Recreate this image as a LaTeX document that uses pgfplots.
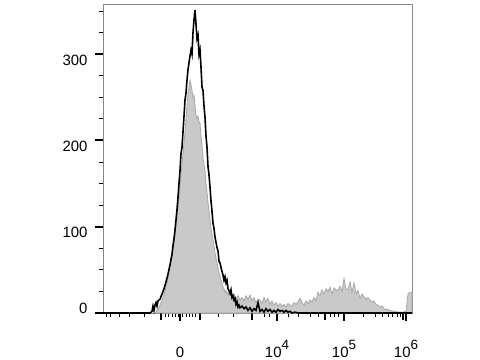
\documentclass[border=0pt]{standalone}
\usepackage{fontspec}
\setmainfont{Liberation Sans}
\usepackage{pgfplots}
\pgfplotsset{compat=1.18}
\definecolor{fillgray}{HTML}{C9C9C9}
\definecolor{edgegray}{HTML}{A8A8A8}
\definecolor{framegray}{HTML}{8A8A8A}
\newcommand{\expsup}[1]{\raisebox{8bp}{\fontsize{13.5}{13.5}\selectfont #1}}
\begin{document}
\begin{tikzpicture}
\path[use as bounding box] (0,0) rectangle (480bp,360bp);
\begin{axis}[
  at={(103bp,47bp)}, anchor=south west,
  scale only axis, width=309bp, height=308bp,
  xmin=103, xmax=412, ymin=0, ymax=357,
  axis line style={framegray, line width=1pt},
  tick align=outside, xtick pos=left, ytick pos=left,
  ytick={100,200,300},
  yticklabels={100,200,300},
  minor ytick={25,50,75,125,150,175,225,250,275,325,350},
  extra y ticks={0}, extra y tick labels={0},
  extra y tick style={yticklabel style={yshift=11bp}},
  major tick length=8bp, minor tick length=4bp,
  major y tick style={black, line width=2pt},
  minor tick style={black, line width=0.9pt},
  major x tick style={black, line width=2.8pt},
  xtick={180,277,344,406},
  xticklabels={0,10\expsup{4},10\expsup{5},10\expsup{6}},
  minor xtick={106,110,119,129,144,165,168,172,175,178,182,186,189,192,195,218,233,264,269,288,298,310,318,330,334,338,363,375,382,388,392,397,400},
  extra x ticks={161,200,252,325,403},
  extra x tick labels={},
  extra x tick style={major tick length=7bp, major x tick style={black, line width=1.4pt}},
  tick label style={font=\fontsize{15}{15}\selectfont},
  yticklabel style={xshift=-4bp, yshift=-6bp},
  xticklabel style={anchor=base, yshift=-36bp},
  clip=false,
]
\addplot[fill=fillgray, draw=edgegray, line width=0.8pt] table {
155 0
157 3
159 6
161 12
163 18
165 26
167 35
169 48
171 60
173 75
175 92
177 112
179 135
181 160
183 185
185 210
187 240
188 255
189 262
190 270
191 265
192 258
193 250
194 252
195 240
196 230
197 225
198 228
199 222
200 220
201 205
202 195
203 180
204 172
205 165
206 150
207 140
208 128
209 118
210 108
211 98
212 92
213 85
214 78
215 70
216 64
217 58
218 52
219 47
220 42
221 38
222 34
223 30
224 28
225 24
226 26
227 22
228 24
229 20
230 22
232 18
234 22
236 16
238 20
240 15
242 18
244 14
246 20
248 16
250 21
252 14
254 18
256 12
258 16
260 15
262 11
264 18
266 13
268 17
270 10
272 14
274 9
276 12
278 8
280 11
282 8
284 10
286 7
288 11
290 9
292 8
294 12
296 10
298 13
300 17
302 12
304 9
306 14
308 11
310 15
312 13
314 18
316 14
318 24
320 20
322 27
324 22
326 28
328 25
330 30
332 22
334 29
336 27
338 26
340 31
342 25
344 40
346 28
348 27
350 36
352 24
354 35
356 22
358 26
360 17
362 22
364 19
366 16
368 18
370 15
372 13
374 14
376 10
378 9
380 7
382 8
384 5
386 4
388 4
390 3
394 2
398 1
403 1
406 2
408 22
410 24
412 24
} \closedcycle;
\addplot[black, line width=1.6pt] table {
103 0
150 0
152 2
153 8
154 3
155 9
156 12
157 8
158 14
160 16
162 22
164 28
166 36
168 45
170 56
171 62
172 68
173 78
174 86
175 96
176 108
177 120
178 134
179 150
180 165
181 185
182 192
183 210
184 228
185 247
186 255
187 270
188 282
189 290
190 298
191 305
192 300
193 325
194 340
195 351
196 335
197 318
198 322
199 300
200 305
201 285
202 262
203 258
204 240
205 227
206 205
207 192
208 170
209 160
210 146
211 130
212 118
213 104
214 98
215 88
216 82
217 76
218 72
219 60
220 58
221 53
222 48
223 44
224 38
225 42
226 35
227 38
228 28
229 26
230 23
231 27
232 18
233 20
234 15
235 17
236 10
237 13
238 7
239 9
240 6
242 8
244 5
246 7
248 3
250 6
252 2
254 5
256 3
258 12
260 2
262 4
264 1
266 5
268 2
270 4
272 1
274 3
276 1
278 4
280 2
282 3
284 1
286 3
288 1
290 2
292 0
295 1
298 0
412 0
};
\end{axis}
\end{tikzpicture}
\end{document}
